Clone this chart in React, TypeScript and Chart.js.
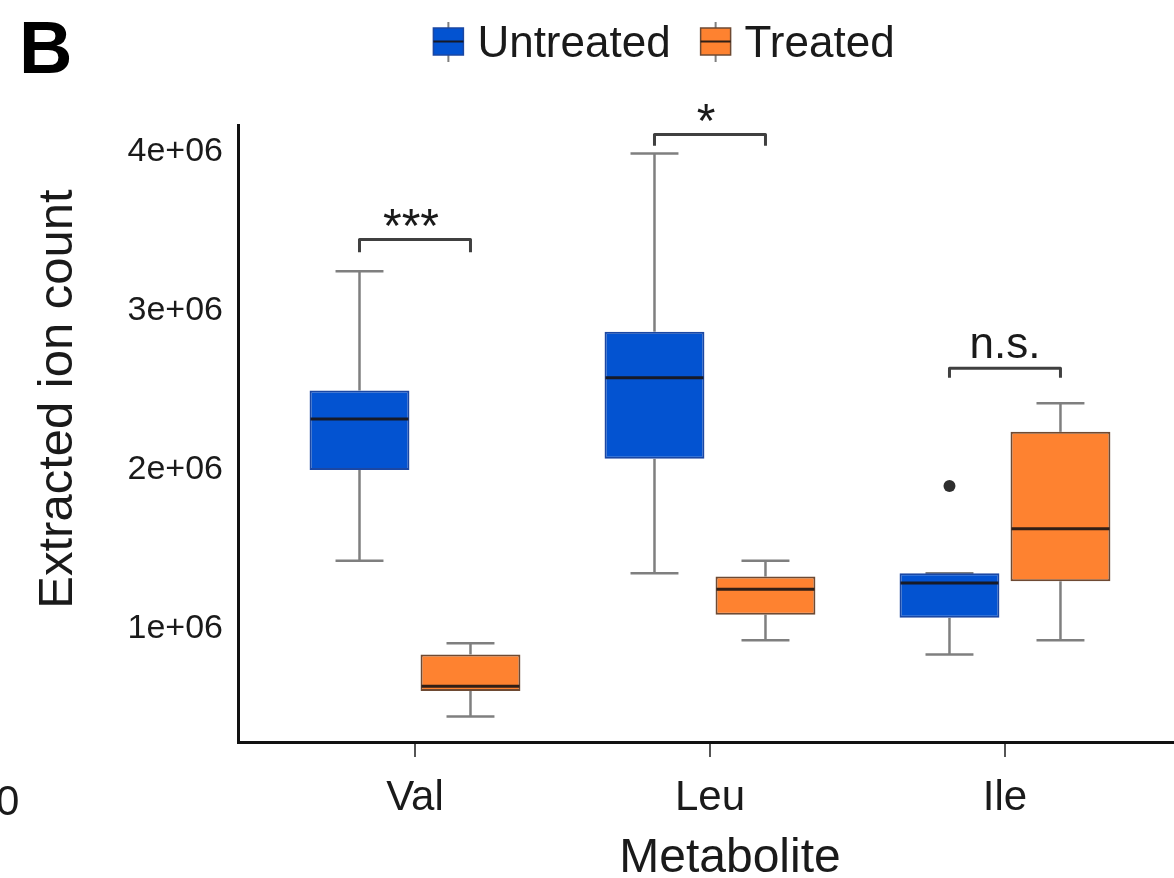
import { useEffect, useRef } from 'react';
import { Chart, registerables } from 'chart.js';

Chart.register(...registerables);

// ---------- data ----------
const categories = ['Val', 'Leu', 'Ile'];
const seriesNames = ['Untreated', 'Treated'];

const untreatedMin = [1.43e6, 1.35e6, 0.84e6];
const untreatedQ1 = [2.0e6, 2.07e6, 1.07e6];
const untreatedMedian = [2.32e6, 2.58e6, 1.29e6];
const untreatedQ3 = [2.5e6, 2.87e6, 1.35e6];
const untreatedMax = [3.25e6, 3.99e6, 1.35e6];
const untreatedOutliers = [[], [], [1.9e6]];

const treatedMin = [0.45e6, 0.93e6, 0.93e6];
const treatedQ1 = [0.61e6, 1.09e6, 1.3e6];
const treatedMedian = [0.64e6, 1.25e6, 1.63e6];
const treatedQ3 = [0.84e6, 1.33e6, 2.24e6];
const treatedMax = [0.91e6, 1.43e6, 2.42e6];
const treatedOutliers = [[], [], []];

const yTickValues = [1e6, 2e6, 3e6, 4e6];

const significanceLabels = ['***', '*', 'n.s.'];
const bracketLevels = [3.45e6, 4.11e6, 2.64e6];
const bracketTips = [3.37e6, 4.04e6, 2.58e6];

// ---------- styles ----------
const FONT = '"Liberation Sans", Arial, Helvetica, sans-serif';
const BLUE = '#0353D1';
const ORANGE = '#FE8230';
const BLUE_BORDER = '#1b47a3';
const ORANGE_BORDER = '#6e4a33';
const WHISKER = '#7f7f7f';
const MEDIAN = 'rgba(25,20,20,0.9)';
const TEXT = '#1a1a1a';

const stats = [
  { min: untreatedMin, q1: untreatedQ1, med: untreatedMedian, q3: untreatedQ3, max: untreatedMax, out: untreatedOutliers },
  { min: treatedMin, q1: treatedQ1, med: treatedMedian, q3: treatedQ3, max: treatedMax, out: treatedOutliers },
];
const legendItems = [
  { label: seriesNames[0], fill: BLUE, border: BLUE_BORDER },
  { label: seriesNames[1], fill: ORANGE, border: ORANGE_BORDER },
];

function line(ctx: CanvasRenderingContext2D, x1: number, y1: number, x2: number, y2: number) {
  ctx.beginPath();
  ctx.moveTo(x1, y1);
  ctx.lineTo(x2, y2);
  ctx.stroke();
}

function inkCentered(ctx: CanvasRenderingContext2D, text: string, cx: number, cy: number) {
  const m = ctx.measureText(text);
  ctx.textAlign = 'center';
  ctx.textBaseline = 'alphabetic';
  ctx.fillText(text, cx, cy + (m.actualBoundingBoxAscent - m.actualBoundingBoxDescent) / 2);
}

const boxPlugin = {
  id: 'boxExtras',
  beforeDatasetsDraw(chart: any) {
    const ctx: CanvasRenderingContext2D = chart.ctx;
    const y = chart.scales.y;
    ctx.save();
    ctx.strokeStyle = WHISKER;
    ctx.lineWidth = 2.5;
    stats.forEach((s, di) => {
      const meta = chart.getDatasetMeta(di);
      meta.data.forEach((el: any, i: number) => {
        const { x, width } = el.getProps(['x', 'width'], true);
        const cap = width * 0.48;
        const pMin = y.getPixelForValue(s.min[i]);
        const pMax = y.getPixelForValue(s.max[i]);
        const pQ1 = y.getPixelForValue(s.q1[i]);
        const pQ3 = y.getPixelForValue(s.q3[i]);
        line(ctx, x, pQ3, x, pMax);
        line(ctx, x - cap / 2, pMax, x + cap / 2, pMax);
        line(ctx, x, pQ1, x, pMin);
        line(ctx, x - cap / 2, pMin, x + cap / 2, pMin);
      });
    });
    ctx.restore();
  },
  afterDatasetsDraw(chart: any) {
    const ctx: CanvasRenderingContext2D = chart.ctx;
    const y = chart.scales.y;
    ctx.save();
    // medians and outliers
    stats.forEach((s, di) => {
      const meta = chart.getDatasetMeta(di);
      meta.data.forEach((el: any, i: number) => {
        const { x, width } = el.getProps(['x', 'width'], true);
        const pMed = y.getPixelForValue(s.med[i]);
        ctx.strokeStyle = MEDIAN;
        ctx.lineWidth = 3;
        line(ctx, x - width / 2 + 1, pMed, x + width / 2 - 1, pMed);
        s.out[i].forEach((v: number) => {
          ctx.fillStyle = '#2e2e2e';
          ctx.beginPath();
          ctx.arc(x, y.getPixelForValue(v), 6, 0, Math.PI * 2);
          ctx.fill();
        });
      });
    });
    // significance brackets
    const m0 = chart.getDatasetMeta(0);
    const m1 = chart.getDatasetMeta(1);
    categories.forEach((_, i) => {
      const x1 = m0.data[i].x;
      const x2 = m1.data[i].x;
      const top = y.getPixelForValue(bracketLevels[i]);
      const tip = y.getPixelForValue(bracketTips[i]);
      ctx.strokeStyle = '#404040';
      ctx.lineWidth = 3;
      ctx.lineJoin = 'round';
      ctx.beginPath();
      ctx.moveTo(x1, tip);
      ctx.lineTo(x1, top);
      ctx.lineTo(x2, top);
      ctx.lineTo(x2, tip);
      ctx.stroke();
      ctx.fillStyle = TEXT;
      const isStars = significanceLabels[i].indexOf('*') >= 0;
      ctx.font = `${isStars ? 48 : 44}px ${FONT}`;
      inkCentered(ctx, significanceLabels[i], (x1 + x2) / 2 - (isStars ? 4 : 0), top - 22);
    });
    ctx.restore();
  },
  afterDraw(chart: any) {
    const ctx: CanvasRenderingContext2D = chart.ctx;
    ctx.save();
    // panel letter
    ctx.fillStyle = '#000';
    ctx.font = `bold 74px ${FONT}`;
    ctx.textAlign = 'left';
    ctx.textBaseline = 'alphabetic';
    ctx.fillText('B', 19, 73);
    // neighbouring-panel remnant
    ctx.fillStyle = TEXT;
    ctx.font = `42px ${FONT}`;
    ctx.fillText('0', -4, 815);
    // legend
    ctx.font = `44px ${FONT}`;
    const iconW = 30;
    const gapIcon = 14;
    const gapItem = 30;
    const widths = legendItems.map((it) => ctx.measureText(it.label).width);
    const total = widths.reduce((a, w) => a + iconW + gapIcon + w, 0) + gapItem;
    let lx = 664 - total / 2;
    legendItems.forEach((it, k) => {
      const cx = lx + iconW / 2;
      ctx.strokeStyle = WHISKER;
      ctx.lineWidth = 2;
      line(ctx, cx, 22, cx, 62);
      ctx.fillStyle = it.fill;
      ctx.fillRect(lx, 28, iconW, 27);
      ctx.strokeStyle = it.border;
      ctx.lineWidth = 1.5;
      ctx.strokeRect(lx, 28, iconW, 27);
      ctx.strokeStyle = MEDIAN;
      ctx.lineWidth = 2;
      line(ctx, lx, 41.5, lx + iconW, 41.5);
      ctx.fillStyle = TEXT;
      ctx.textAlign = 'left';
      ctx.textBaseline = 'alphabetic';
      ctx.fillText(it.label, lx + iconW + gapIcon, 57);
      lx += iconW + gapIcon + widths[k] + gapItem;
    });
    // axis titles
    ctx.fillStyle = TEXT;
    ctx.textAlign = 'center';
    ctx.textBaseline = 'alphabetic';
    ctx.font = `48px ${FONT}`;
    ctx.fillText('Metabolite', 730, 872);
    ctx.font = `49px ${FONT}`;
    ctx.translate(72, 399);
    ctx.rotate(-Math.PI / 2);
    ctx.fillText('Extracted ion count', 0, 0);
    ctx.restore();
  },
};

export default function App() {
  const ref = useRef<HTMLCanvasElement>(null);

  useEffect(() => {
    if (!ref.current) return;
    const mkData = (s: any) => categories.map((_, i) => ({ x: i, y: [s.q1[i], s.q3[i]] }));
    const chart = new Chart(ref.current, {
      type: 'bar',
      data: {
        datasets: [
          {
            label: seriesNames[0],
            data: mkData(stats[0]) as any,
            backgroundColor: BLUE,
            borderColor: BLUE_BORDER,
            borderWidth: 2,
            borderSkipped: false,
            categoryPercentage: 0.7525,
            barPercentage: 0.9,
          },
          {
            label: seriesNames[1],
            data: mkData(stats[1]) as any,
            backgroundColor: ORANGE,
            borderColor: ORANGE_BORDER,
            borderWidth: 2,
            borderSkipped: false,
            categoryPercentage: 0.7525,
            barPercentage: 0.9,
          },
        ],
      },
      options: {
        responsive: false,
        animation: false,
        layout: { padding: { top: 125, left: 0, right: 0, bottom: 0 } },
        plugins: { legend: { display: false }, tooltip: { enabled: false } },
        scales: {
          x: {
            type: 'linear',
            min: -0.6,
            max: 2.573,
            offset: false,
            afterBuildTicks: (s: any) => {
              s.ticks = categories.map((_, i) => ({ value: i }));
            },
            afterFit: (s: any) => {
              s.height = 136;
            },
            grid: {
              display: true,
              offset: false,
              drawOnChartArea: false,
              drawTicks: true,
              tickLength: 15,
              color: '#555',
              lineWidth: 2,
            },
            border: { display: true, color: '#111', width: 3 },
            ticks: {
              color: TEXT,
              font: { family: FONT, size: 42 },
              padding: 16,
              maxRotation: 0,
              autoSkip: false,
              callback: (v: any) => categories[v as number] ?? '',
            },
          },
          y: {
            type: 'linear',
            min: 289300,
            max: 4169800,
            afterBuildTicks: (s: any) => {
              s.ticks = yTickValues.map((v) => ({ value: v }));
            },
            afterFit: (s: any) => {
              s.width = 238;
            },
            grid: { display: false },
            border: { display: true, color: '#111', width: 3 },
            ticks: {
              color: TEXT,
              font: { family: FONT, size: 34 },
              padding: 7,
              callback: (v: any) => `${(v as number) / 1e6}e+06`,
            },
          },
        },
      },
      plugins: [boxPlugin],
    } as any);
    return () => chart.destroy();
  }, []);

  return (
    <div style={{ position: 'fixed', left: 0, top: 0, width: 1174, height: 878, background: '#fff' }}>
      <canvas ref={ref} width={1174} height={878} style={{ display: 'block', width: 1174, height: 878 }} />
    </div>
  );
}
